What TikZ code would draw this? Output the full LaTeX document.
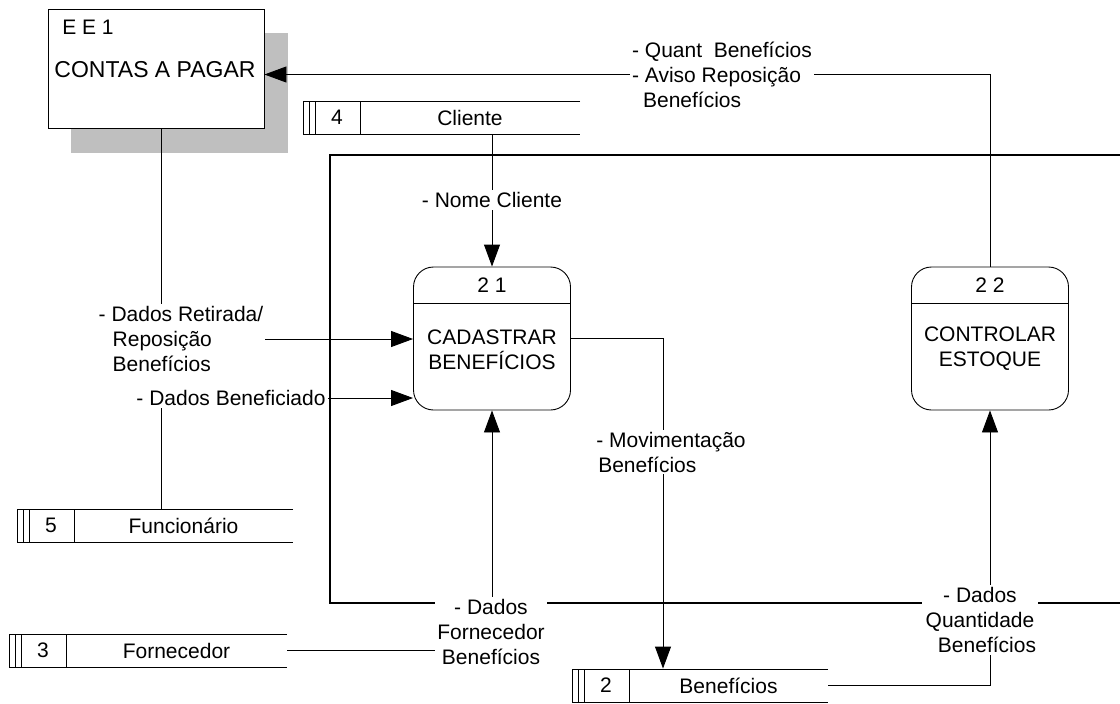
\documentclass[tikz,border=0pt]{standalone}
\usepackage{fontspec}
\setmainfont{Liberation Sans}
\usetikzlibrary{arrows.meta}
\begin{document}
\begin{tikzpicture}[x=1pt,y=-1pt,line width=0.9pt,
    every node/.style={font=\fontsize{21}{25}\selectfont,inner sep=1pt},
    flow/.style={-{Triangle[length=22pt,width=16pt]}},
    lbl/.style={fill=white,inner sep=2pt},
    proc/.style={draw,rounded corners=20pt,minimum width=157pt,minimum height=143pt,inner sep=0pt}]
  \useasboundingbox (0,0) rectangle (1120,704);
  % external entity
  \fill[black!25] (71,33) rectangle (288,153);
  \node[draw,fill=white,minimum width=216pt,minimum height=119pt,inner sep=0pt] (ee1) at (156,68.5) {};
  \node (ee1id) at (88,27) {E E 1};
  \node[font=\fontsize{23}{27}\selectfont] (ee1t) at (155,70) {CONTAS A PAGAR};
  % processes
  \node[proc] (p21) at (492,338.5) {};
  \node[proc] (p22) at (990,338.5) {};
  \draw (p21.west |- 0,303) -- (p21.east |- 0,303);
  \draw (p22.west |- 0,303) -- (p22.east |- 0,303);
  \node (p21id) at (492,285) {2 1};
  \node[align=center] (p21t) at (492,350) {CADASTRAR\\BENEFÍCIOS};
  \node (p22id) at (990,285) {2 2};
  \node[align=center] (p22t) at (990,349) {CONTROLAR\\ESTOQUE};
  % data stores
  \foreach \n/\x/\y/\w/\id/\t in {s4/303/101/277/4/Cliente,s5/17/509/276/5/Funcionário,
      s3/9/634/278/3/Fornecedor,s2/572/669/256/2/Benefícios}{
    \draw[line width=0.7pt] (\x+\w,\y) -- (\x,\y) -- (\x,\y+33) -- (\x+\w,\y+33)
      (\x+6,\y) -- ++(0,33) (\x+12,\y) -- ++(0,33) (\x+57,\y) -- ++(0,33);
    \node[minimum width=\w pt,minimum height=33pt,inner sep=0pt] (\n) at (\x+\w/2,\y+16.5) {};
    \node (\n id) at (\x+34,\y+16.5) {\id};
    \node (\n t) at (\x+57/2+\w/2,\y+16.5) {\t};
  }
  % boundary
  \draw[line width=1.5pt] (1120,155) -- (330,155) -- (330,603) -- (1120,603);
  % flows
  \coordinate (dr) at (161,339);
  \coordinate (db) at (161,398);
  \coordinate (mv) at (663,338.5);
  \draw[flow] (p22.north) |- ([yshift=-6pt]ee1.east);
  \draw[flow] (s4.south -| p21.north) -- (p21.north);
  \draw[flow] (ee1.south -| dr) -- (dr) -- (p21.west |- dr);
  \draw[flow] (s5.north -| db) -- (db) -- (p21.west |- db);
  \draw[flow] (s3.east) -- (p21.south |- s3.east) -- (p21.south);
  \draw[flow] (p21.east) -- (mv) -- (mv |- s2.north);
  \draw[flow] (s2.east) -- (p22.south |- s2.east) -- (p22.south);
  % labels
  \node[lbl,align=left] (l1) at (722,75) {- Quant\ \ Benefícios\\- Aviso Reposição\\\hspace{11pt}Benefícios};
  \node[lbl] (l2) at (492,200) {- Nome Cliente};
  \node[lbl,align=left] (l3) at (181,339) {- Dados Retirada/\\\hspace{14pt}Reposição\\\hspace{14pt}Benefícios};
  \node[lbl] (l4) at (231,398) {- Dados Beneficiado};
  \node[lbl,align=center] (l5) at (491,632) {- Dados\\Fornecedor\\Benefícios};
  \node[lbl,align=left] (l6) at (671,452) {- Movimentação\\\hspace{2pt}Benefícios};
  \node[lbl,align=center] (l7) at (980,620) {- Dados\\Quantidade\\\hspace{14pt}Benefícios};
\end{tikzpicture}
\end{document}
